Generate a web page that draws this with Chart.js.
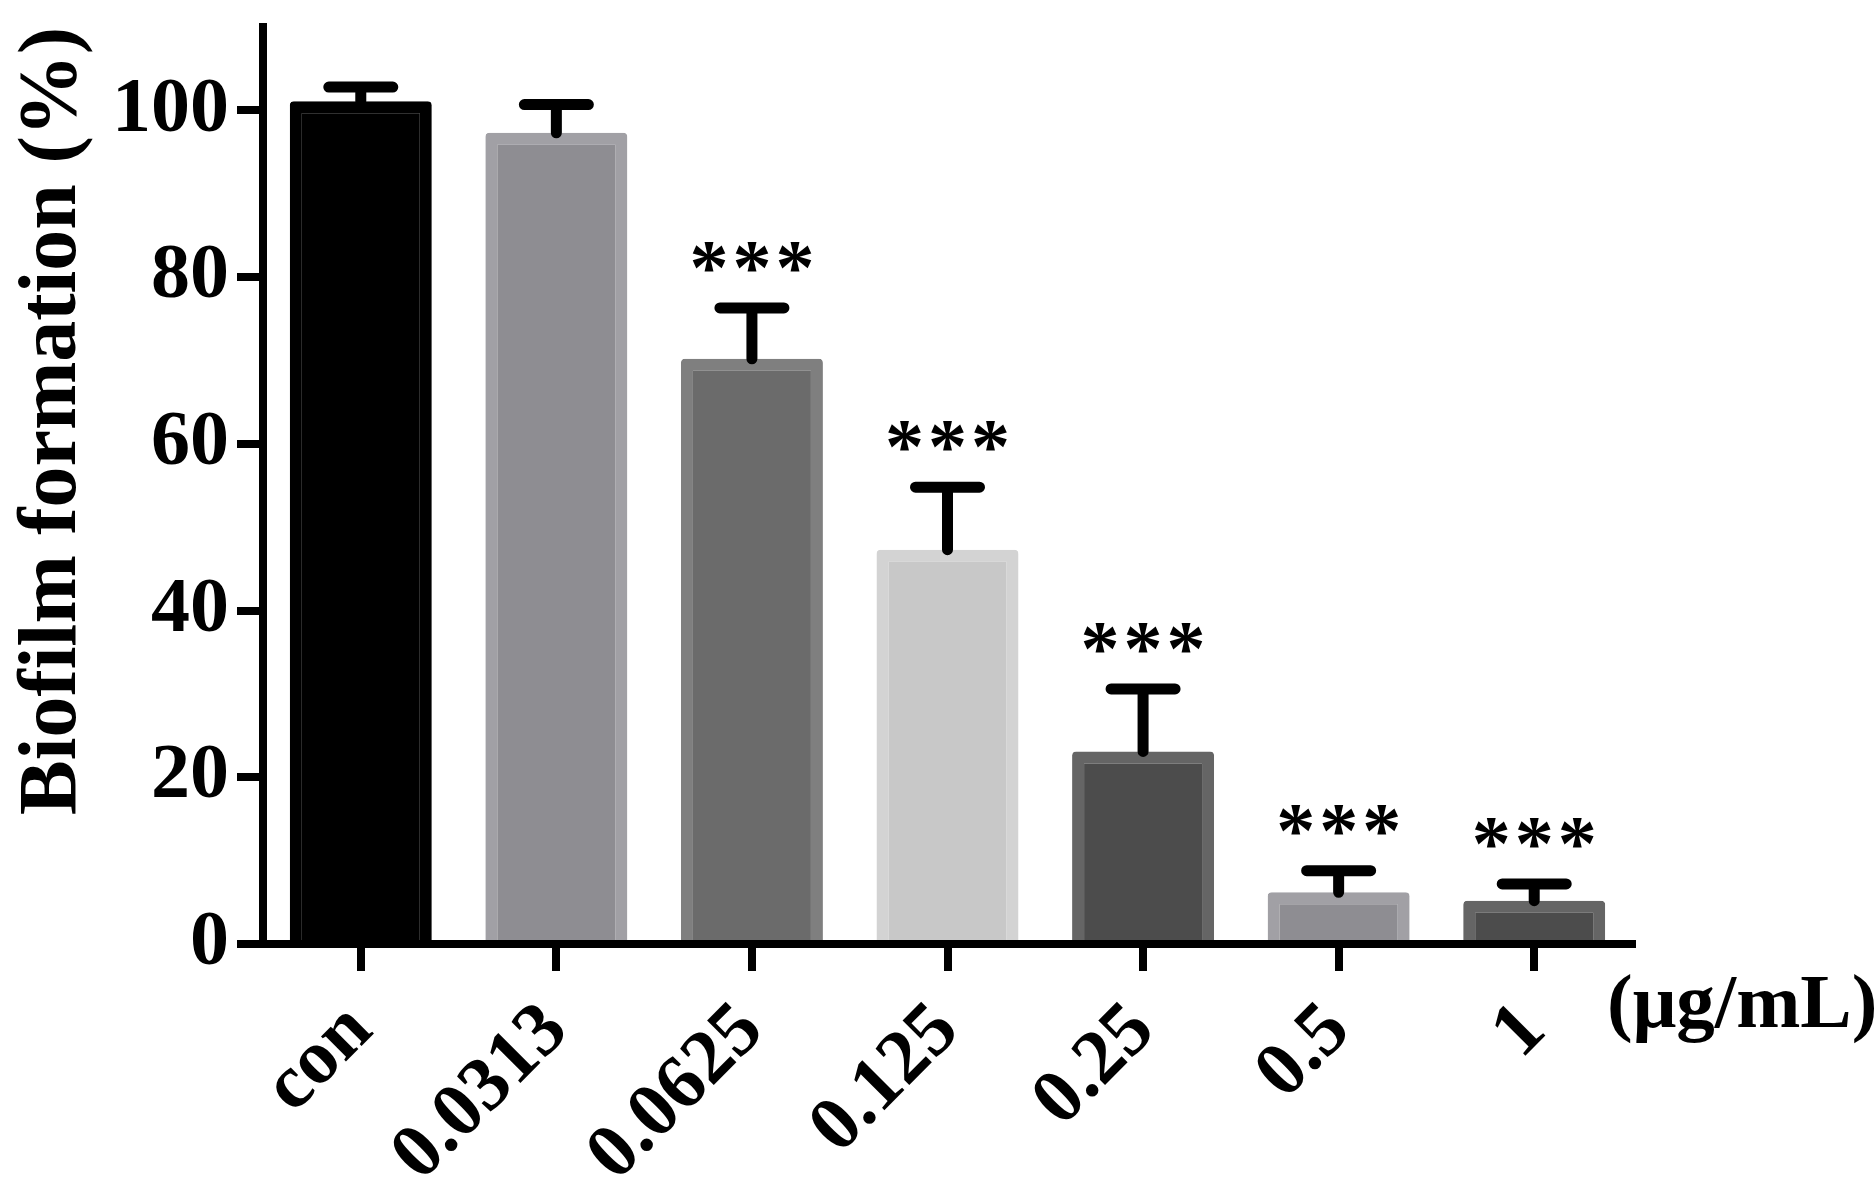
<!DOCTYPE html>
<html>
<head>
<meta charset="utf-8">
<script src="https://cdn.jsdelivr.net/npm/chart.js@4/dist/chart.umd.min.js"></script>
<style>
html,body{margin:0;padding:0;background:#fff;}
canvas{display:block;}
</style>
</head>
<body>
<canvas id="c" width="1875" height="1185"></canvas>
<script>
const categories = ['con', '0.0313', '0.0625', '0.125', '0.25', '0.5', '1'];
const means = [101.1, 97.3, 70.2, 47.3, 23.1, 6.2, 5.2];
const errors = [1.7, 3.4, 6.1, 7.5, 7.5, 2.6, 2.0];
const significance = ['', '', '***', '***', '***', '***', '***'];
const yTicks = [0, 20, 40, 60, 80, 100];
const unitLabel = '(μg/mL)';
const yTitle = 'Biofilm formation (%)';

const fillColors = ['#000000', '#8e8d92', '#6b6b6b', '#c8c8c8', '#4c4c4c', '#8e8d92', '#4c4c4c'];
const borderColors = ['#000000', '#a1a0a5', '#7f7f7f', '#d3d3d3', '#656565', '#a1a0a5', '#656565'];

const FONT = 'Liberation Serif';

const overlay = {
  id: 'overlay',
  afterDraw(chart) {
    const ctx = chart.ctx, xs = chart.scales.x, ys = chart.scales.y;
    ctx.save();
    ctx.strokeStyle = '#000';
    ctx.fillStyle = '#000';
    ctx.lineWidth = 11;
    ctx.lineCap = 'round';
    means.forEach((m, i) => {
      const px = xs.getPixelForValue(i);
      const base = ys.getPixelForValue(m);
      const top = ys.getPixelForValue(m + errors[i]);
      ctx.beginPath();
      ctx.moveTo(px, base);
      ctx.lineTo(px, top);
      ctx.moveTo(px - 32, top);
      ctx.lineTo(px + 32, top);
      ctx.stroke();
      if (significance[i]) {
        ctx.font = 'bold 78px "' + FONT + '"';
        ctx.textAlign = 'center';
        ctx.textBaseline = 'alphabetic';
        const mt = ctx.measureText('*');
        const cy = top - 51;
        const baseY = cy + (mt.actualBoundingBoxAscent - mt.actualBoundingBoxDescent) / 2;
        const n = significance[i].length;
        for (let k = 0; k < n; k++) {
          ctx.fillText('*', px + (k - (n - 1) / 2) * 43, baseY);
        }
      }
    });
    ctx.font = 'bold 77px "' + FONT + '"';
    ctx.textAlign = 'left';
    ctx.textBaseline = 'alphabetic';
    ctx.fillText(unitLabel, xs.right - 25, chart.chartArea.bottom + 83);
    ctx.restore();
  }
};

new Chart(document.getElementById('c'), {
  type: 'bar',
  data: {
    labels: categories,
    datasets: [{
      data: means,
      backgroundColor: fillColors,
      borderColor: borderColors,
      borderWidth: 12,
      borderRadius: 4,
      borderSkipped: 'start',
      barPercentage: 0.726,
      categoryPercentage: 1
    }]
  },
  options: {
    responsive: false,
    animation: false,
    devicePixelRatio: 1,
    layout: { padding: { top: 27, right: 243, left: 0, bottom: 0 } },
    plugins: { legend: { display: false }, tooltip: { enabled: false } },
    scales: {
      x: {
        z: 1,
        grid: { display: true, drawOnChartArea: false, offset: false, color: '#000', lineWidth: 8, tickLength: 27 },
        border: { display: true, color: '#000', width: 8 },
        ticks: { color: '#000', font: { family: FONT, weight: 'bold', size: 77 }, maxRotation: 45, minRotation: 45, padding: 15, autoSkip: false },
        afterFit(s) { s.height = 241; s.paddingLeft = 0; s.paddingRight = 0; }
      },
      y: {
        z: 1,
        min: 0, max: 110,
        grid: { drawOnChartArea: false, color: '#000', lineWidth: 8, tickLength: 26 },
        border: { color: '#000', width: 8 },
        ticks: { color: '#000', font: { family: FONT, weight: 'bold', size: 78 }, padding: 8 },
        afterBuildTicks(s) { s.ticks = yTicks.map(v => ({ value: v })); },
        afterFit(s) { s.width = 263; s.paddingTop = 0; s.paddingBottom = 0; },
        title: { display: true, text: yTitle, align: 'end', color: '#000', font: { family: FONT, weight: 'bold', size: 82 }, padding: { top: 5, bottom: 0 } }
      }
    }
  },
  plugins: [overlay]
});
</script>
</body>
</html>
